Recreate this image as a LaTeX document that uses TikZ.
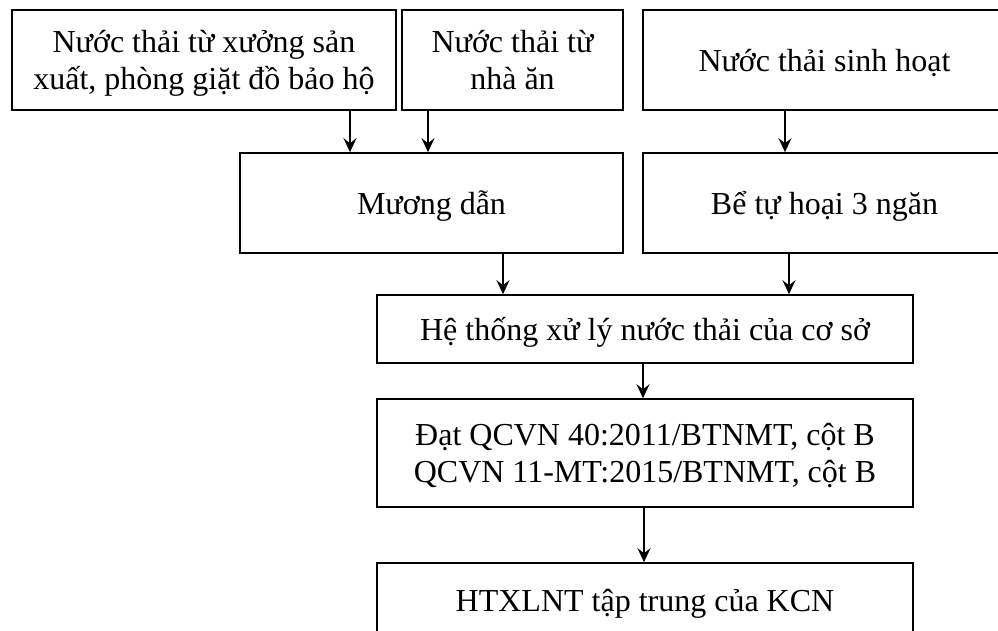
\documentclass[tikz,border=0pt]{standalone}
\usepackage{fontspec}
\setmainfont{Liberation Serif}
\usetikzlibrary{arrows.meta,positioning}

\begin{document}
\begin{tikzpicture}[x=0.5pt, y=-0.5pt,
  box/.style={draw, line width=0.8pt, rectangle, align=center, inner sep=0pt,
    text depth=0pt, font=\fontsize{16pt}{18.6pt}\selectfont},
  arr/.style={-{Stealth[length=7pt,width=6.5pt,inset=2.5pt]}, line width=0.8pt}]
\useasboundingbox (0,0) rectangle (998,631);
\clip (0,0) rectangle (998,631);

% Nguon nuoc thai
\node[box, minimum width=192pt, minimum height=50pt] (xuong) at (204,60)
  {Nước thải từ xưởng sản\\xuất, phòng giặt đồ bảo hộ};
\node[box, minimum width=110.5pt, minimum height=50pt] (nhaan) at (512.5,60)
  {Nước thải từ\\nhà ăn};
\node[box, minimum width=181.5pt, minimum height=50pt] (sinhhoat) at (824.5,60)
  {Nước thải sinh hoạt};

% Xu ly so bo
\node[box, minimum width=191.5pt, minimum height=50pt] (muong) at (431.5,203)
  {Mương dẫn};
\node[box, minimum width=181.5pt, minimum height=50pt] (be) at (824.5,203)
  {Bể tự hoại 3 ngăn};

% He thong xu ly va dau ra
\node[box, minimum width=268pt, minimum height=34pt] (htxl) at (645,329)
  {Hệ thống xử lý nước thải của cơ sở};
\node[box, minimum width=268pt, minimum height=54pt] (dat) at (645,453)
  {Đạt QCVN 40:2011/BTNMT, cột B\\QCVN 11-MT:2015/BTNMT, cột B};
\node[box, minimum width=268pt, minimum height=37pt] (kcn) at (645,600)
  {HTXLNT tập trung của KCN};

% Mui ten
\draw[arr] (xuong.south -| 350,0) -- (muong.north -| 350,0);
\draw[arr] (nhaan.south -| 428,0) -- (muong.north -| 428,0);
\draw[arr] (sinhhoat.south -| 785,0) -- (be.north -| 785,0);
\draw[arr] (muong.south -| 503,0) -- (htxl.north -| 503,0);
\draw[arr] (be.south -| 789,0) -- (htxl.north -| 789,0);
\draw[arr] (htxl.south -| 643,0) -- (dat.north -| 643,0);
\draw[arr] (dat.south -| 644,0) -- (kcn.north -| 644,0);
\end{tikzpicture}
\end{document}
